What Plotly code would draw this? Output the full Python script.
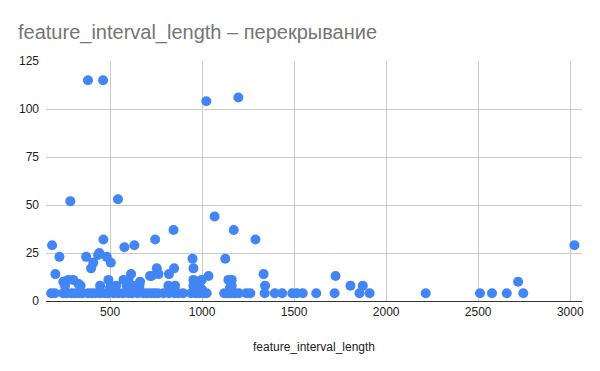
import plotly.graph_objects as go

# Data (feature_interval_length vs overlap)
base_len = [180, 200, 245, 265, 290, 310, 330, 350, 380, 400, 420, 445, 470, 490,
            520, 545, 570, 600, 620, 650, 680, 700, 720, 740, 760, 790, 820, 850,
            870, 897, 940, 965, 985, 1005, 1025, 1120, 1140, 1160, 1180, 1200,
            1240, 1262, 1340, 1395, 1435, 1490, 1515, 1547, 1620, 1720, 1855,
            1910, 2215, 2510, 2575, 2655, 2745]
base_overlap = [4] * len(base_len)

other_len = [380, 462, 1023, 1197,
             185, 284, 543, 203, 225, 370, 397, 409, 435, 442, 464, 482, 504,
             578, 632, 745, 845, 1068, 1172, 1290, 948, 1126, 953, 848, 754,
             614, 725, 763, 820, 1334, 1342, 1035, 953, 998, 1143, 1161, 1161,
             1152, 817, 853, 654, 971, 1000, 989, 953,
             1725, 1806, 1873, 2717, 3023,
             246, 273, 300, 328, 255, 340, 491, 446, 533, 573, 600, 591, 636,
             663, 500, 660, 717]
other_overlap = [115, 115, 104, 106,
                 29, 52, 53, 14, 23, 23, 17, 20, 24, 25, 32, 23, 20,
                 28, 29, 32, 37, 44, 37, 32, 22, 22, 17, 17, 17,
                 14, 13, 14, 14, 14, 8, 13, 11, 11, 11, 11, 8,
                 7, 8, 8, 7, 7, 6, 10, 8,
                 13, 8, 8, 10, 29,
                 10, 11, 11, 9, 8, 8, 11, 8, 8, 11, 11, 8, 8,
                 10, 7, 8, 13]

x_tick_vals = [500, 1000, 1500, 2000, 2500, 3000]
y_tick_vals = [0, 25, 50, 75, 100, 125]

xs = base_len + other_len
ys = base_overlap + other_overlap

fig = go.Figure()
fig.add_trace(go.Scatter(
    x=xs, y=ys, mode="markers",
    marker=dict(size=10, color="#4285F4", line=dict(width=0)),
    cliponaxis=False, showlegend=False,
))

# the page body adds an 8px offset; margins compensate for it
W, H = 600, 371
fig.update_layout(
    width=W, height=H,
    paper_bgcolor="white", plot_bgcolor="white",
    margin=dict(l=38, r=26, t=53, b=78),
    font=dict(family="Liberation Sans, Arial, sans-serif", size=12, color="#444444"),
    title=dict(text="feature_interval_length – перекрывание",
               x=10 / W, xanchor="left", xref="container",
               y=1 - 24 / H, yanchor="middle", yref="container",
               font=dict(size=20, color="#757575")),
)
fig.update_xaxes(
    range=[152, 3064], tickvals=x_tick_vals,
    showgrid=True, gridcolor="#cccccc", gridwidth=1,
    zeroline=False, showline=True, linecolor="#333333", linewidth=1,
    ticks="", tickfont=dict(size=12, color="#222222"),
    title=dict(text="feature_interval_length", font=dict(size=12, color="#222222"), standoff=24),
)
fig.update_yaxes(
    range=[0, 125], tickvals=y_tick_vals,
    showgrid=True, gridcolor="#cccccc", gridwidth=1,
    zeroline=False, showline=False, ticks="",
    tickfont=dict(size=12, color="#222222"), ticklabelstandoff=6,
)

fig.write_html("out.html")
